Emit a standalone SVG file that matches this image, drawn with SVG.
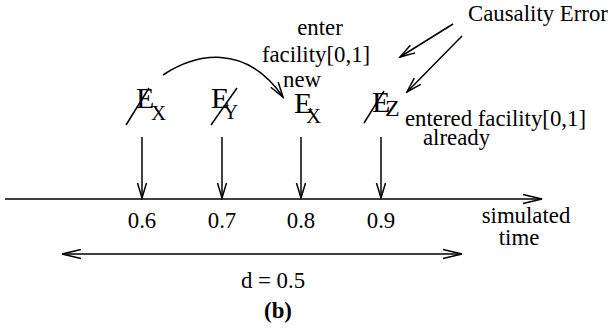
<svg xmlns="http://www.w3.org/2000/svg" width="611" height="329" viewBox="0 0 611 329" font-family="'Liberation Serif', 'Times New Roman', 'DejaVu Serif', serif">
<style>
text{font-family:'Liberation Serif','Times New Roman','DejaVu Serif',serif;fill:#000;font-size:22.8px}
.big{font-size:30px}
.sub{font-size:21px}
.ln{stroke:#000;stroke-width:1.5;fill:none}
.m{text-anchor:middle}
</style>
<defs>
<marker id="ah" markerWidth="22" markerHeight="12" refX="20" refY="6" orient="auto" markerUnits="userSpaceOnUse">
<path d="M1,1.5 L20,6 L1,10.5" fill="none" stroke="#000" stroke-width="1.5"/>
</marker>
<marker id="ahs" markerWidth="18" markerHeight="12" refX="16" refY="6" orient="auto" markerUnits="userSpaceOnUse">
<path d="M1,1.5 L16,6 L1,10.5" fill="none" stroke="#000" stroke-width="1.5"/>
</marker>
<marker id="ahstart" markerWidth="22" markerHeight="12" refX="2" refY="6" orient="auto" markerUnits="userSpaceOnUse">
<path d="M21,1.5 L2,6 L21,10.5" fill="none" stroke="#000" stroke-width="1.5"/>
</marker>
</defs>
<g id="connectors">
<line class="ln" x1="5" y1="199" x2="542" y2="199" marker-end="url(#ah)"/>
<line class="ln" x1="62" y1="254" x2="462" y2="254" marker-start="url(#ahstart)" marker-end="url(#ah)"/>
<line class="ln" x1="142" y1="137" x2="142" y2="198" marker-end="url(#ahs)"/>
<line class="ln" x1="222" y1="137" x2="222" y2="198" marker-end="url(#ahs)"/>
<line class="ln" x1="301" y1="137" x2="301" y2="198" marker-end="url(#ahs)"/>
<line class="ln" x1="381" y1="137" x2="381" y2="198" marker-end="url(#ahs)"/>
<path class="ln" d="M163,75 C195,54 245,42 283,97" marker-end="url(#ahs)"/>
<line class="ln" x1="453" y1="24" x2="400" y2="57" marker-end="url(#ahs)"/>
<line class="ln" x1="462" y1="36" x2="407" y2="92" marker-end="url(#ahs)"/>
</g>
<g id="ex1">
<text class="big" x="136" y="108">E</text>
<text class="sub" x="151" y="120">X</text>
<line class="ln" x1="126" y1="125" x2="149" y2="88"/>
</g>
<g id="ey">
<text class="big" x="211" y="108">E</text>
<text class="sub" x="223" y="119">Y</text>
<line class="ln" x1="211" y1="125" x2="237" y2="88"/>
</g>
<g id="ex-new">
<text x="283" y="87">new</text>
<text class="big" x="294" y="113">E</text>
<text class="sub" x="306" y="123">X</text>
</g>
<g id="ez">
<text class="big" x="372" y="112">E</text>
<text class="sub" x="385" y="116" style="font-size:24px">Z</text>
<line class="ln" x1="364" y1="123" x2="384" y2="91"/>
</g>
<g id="label-enter">
<text class="m" x="320" y="35">enter</text>
<text class="m" x="316" y="62">facility[0,1]</text>
</g>
<g id="label-causality">
<text x="468" y="21">Causality Error</text>
</g>
<g id="label-entered">
<text x="405" y="126">entered facility[0,1]</text>
<text x="423" y="145">already</text>
</g>
<g id="ticks">
<text class="m" x="142" y="228">0.6</text>
<text class="m" x="222" y="228">0.7</text>
<text class="m" x="301" y="228">0.8</text>
<text class="m" x="381" y="228">0.9</text>
</g>
<g id="label-time">
<text class="m" x="526" y="223">simulated</text>
<text class="m" x="519" y="245">time</text>
</g>
<g id="label-d">
<text class="m" x="273" y="288">d = 0.5</text>
</g>
<g id="caption">
<text class="m" x="278" y="318" style="font-weight:bold">(b)</text>
</g>
</svg>
